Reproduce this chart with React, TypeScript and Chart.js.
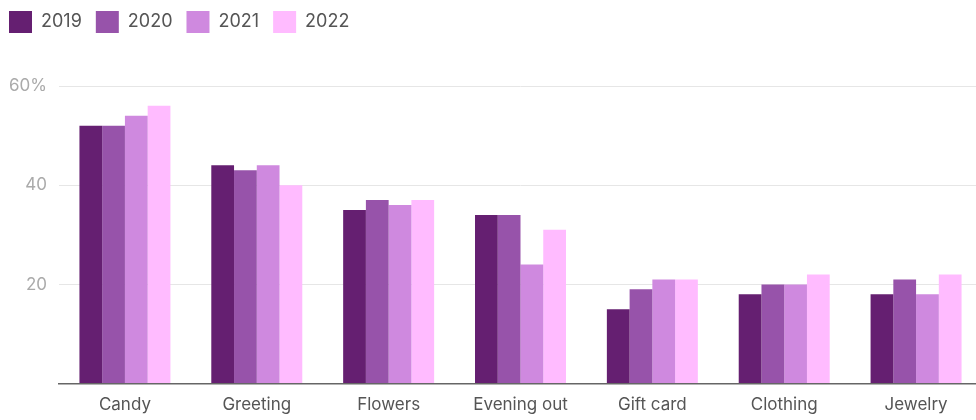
import React, { useEffect, useRef } from "react";
import { Chart, registerables } from "chart.js";

Chart.register(...registerables);

const categories = ["Candy", "Greeting", "Flowers", "Evening out", "Gift card", "Clothing", "Jewelry"];
const seriesNames = ["2019", "2020", "2021", "2022"];
const values2019 = [52, 44, 35, 34, 15, 18, 18];
const values2020 = [52, 43, 37, 34, 19, 20, 21];
const values2021 = [54, 44, 36, 24, 21, 20, 18];
const values2022 = [56, 40, 37, 31, 21, 22, 22];
const colors = ["#651f71", "#9753aa", "#cf89df", "#ffbbff"];
const yTicks = [0, 20, 40, 60];

export default function App() {
  const ref = useRef<HTMLCanvasElement | null>(null);
  useEffect(() => {
    if (!ref.current) return;
    const all = [values2019, values2020, values2021, values2022];
    const font = "Inter, 'Noto Sans', sans-serif";
    const chart = new Chart(ref.current, {
      type: "bar",
      data: {
        labels: categories,
        datasets: seriesNames.map((n, i) => ({
          label: n,
          data: all[i],
          backgroundColor: colors[i],
          borderWidth: 0,
          categoryPercentage: 0.69,
          barPercentage: 1.0,
        })),
      },
      options: {
        animation: false,
        responsive: false,
        maintainAspectRatio: false,
        layout: { padding: { left: 0, right: 8, top: 0, bottom: 0 } },
        plugins: {
          tooltip: { enabled: false },
          legend: {
            position: "top",
            align: "start",
            labels: {
              boxWidth: 23,
              boxHeight: 22,
              padding: 14,
              color: "#555",
              font: { family: font, size: 18 },
            },
          },
        },
        scales: {
          x: {
            grid: { display: false, drawTicks: false },
            border: { display: true, color: "#666", width: 1.5 },
            ticks: { color: "#555", font: { family: font, size: 17 }, padding: 11, maxRotation: 0 },
          },
          y: {
            min: 0,
            max: 60,
            afterBuildTicks: (axis: any) => {
              axis.ticks = yTicks.map((v) => ({ value: v }));
            },
            afterFit: (axis: any) => {
              axis.width = 59;
            },
            grid: { color: "#e6e6e6", lineWidth: 1, drawTicks: false },
            border: { display: false },
            ticks: {
              color: "#aaa",
              font: { family: font, size: 17 },
              padding: 12,
              callback: (v: any) => (v === 0 ? "" : v === 60 ? "60%" : String(v)),
            },
          },
        },
      },
      plugins: [
        {
          id: "legendSpacer",
          beforeInit(c: any) {
            const lg = c.legend;
            if (!lg) return;
            const orig = lg.fit;
            lg.fit = function () {
              orig.call(this);
              this.height += 40;
            };
          },
          afterLayout(c: any) {
            const lg = c.legend;
            if (!lg) return;
            lg.left -= 5;
            lg.right -= 5;
            lg.top -= 3;
            lg.bottom -= 3;
          },
        },
      ],
    } as any);
    return () => chart.destroy();
  }, []);
  return (
    <div style={{ position: "fixed", left: 0, top: 0, width: 976, height: 420, overflow: "hidden", background: "#fff" }}>
      <canvas ref={ref} width={990} height={426} style={{ width: 990, height: 426, display: "block" }} />
    </div>
  );
}
